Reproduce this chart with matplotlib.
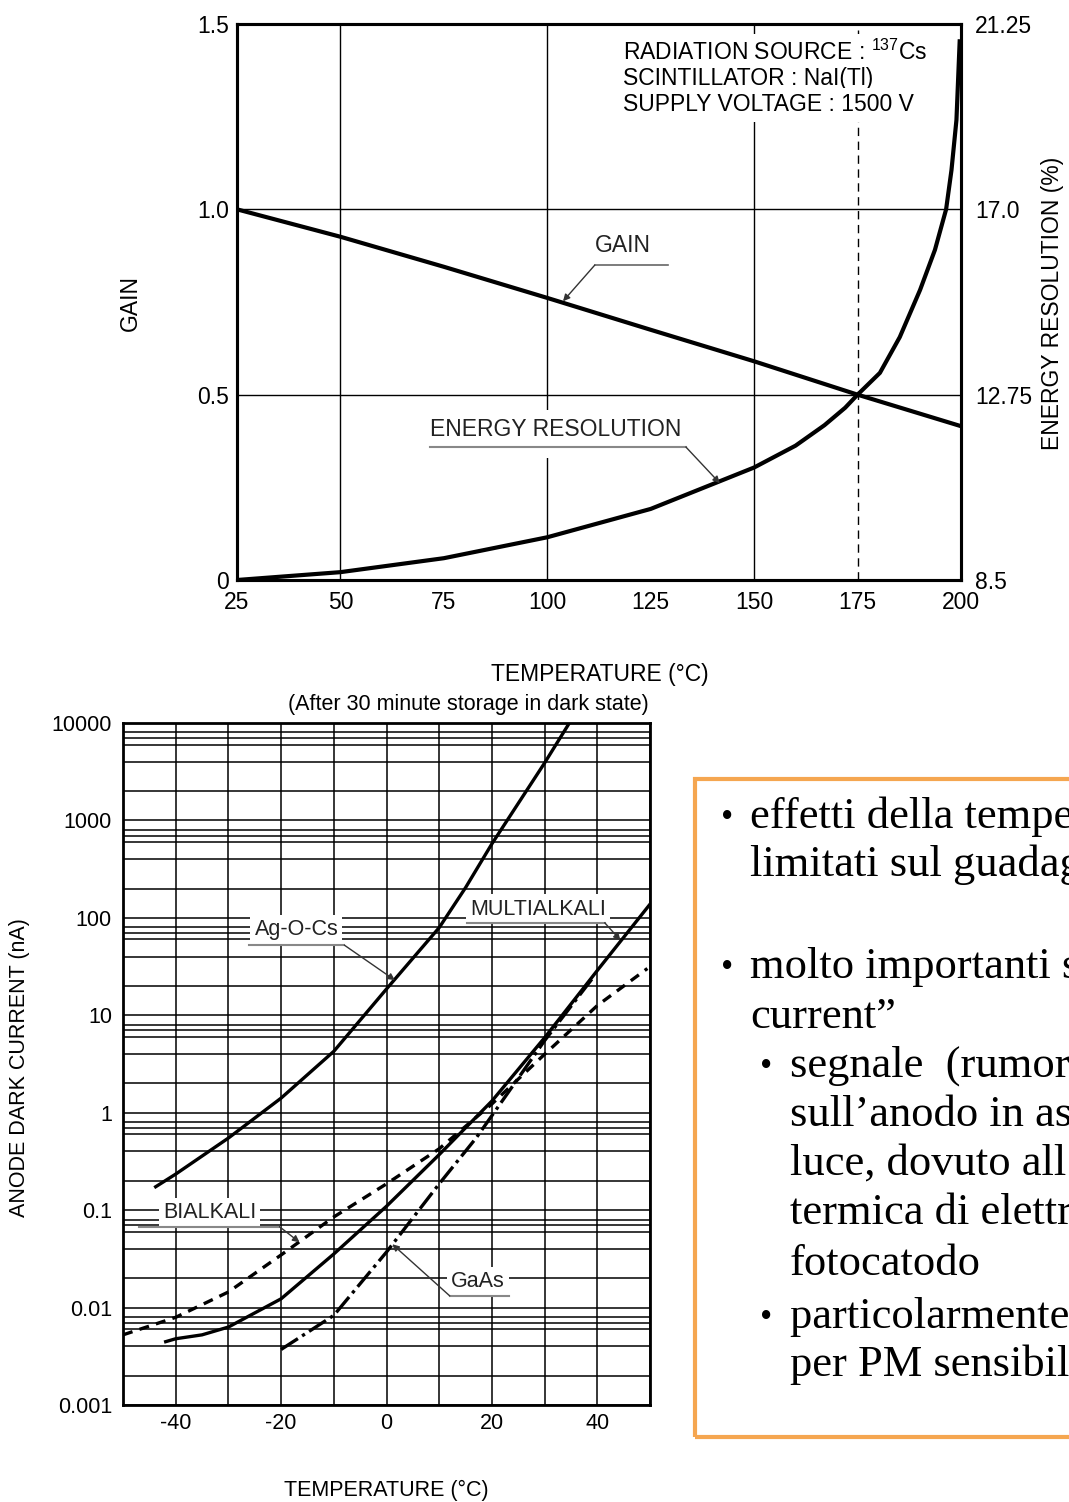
import numpy as np
import matplotlib
matplotlib.use("Agg")
import matplotlib.pyplot as plt
from matplotlib.patches import Rectangle
from matplotlib.ticker import FixedLocator, NullFormatter

plt.rcParams['font.family'] = ['Liberation Sans', 'DejaVu Sans']
plt.rcParams['mathtext.fontset'] = 'custom'
plt.rcParams['mathtext.rm'] = 'Liberation Sans'

# ---- top chart: gain / energy resolution vs temperature ----
gain_temp = [25, 50, 75, 100, 125, 150, 175, 200]
gain_val = [1.0, 0.926, 0.845, 0.761, 0.675, 0.59, 0.5, 0.415]

er_temp = [25, 50, 75, 100, 125, 150, 160, 167, 172, 175, 180.4, 185.2,
           190.1, 193.7, 196.4, 197.7, 198.9, 199.7]
er_val = [8.5, 8.68, 9.0, 9.48, 10.13, 11.08, 11.58, 12.05, 12.45, 12.75,
          13.25, 14.07, 15.15, 16.07, 17.0, 17.9, 19.05, 20.9]

top_xticks = [25, 50, 75, 100, 125, 150, 175, 200]
gain_ticks = [0, 0.5, 1.0, 1.5]
gain_ticklabels = ['0', '0.5', '1.0', '1.5']
er_ticks = [8.5, 12.75, 17.0, 21.25]
er_ticklabels = ['8.5', '12.75', '17.0', '21.25']

# ---- bottom chart: anode dark current vs temperature (log10 nA) ----
agocs_temp = [-43.8, -40, -30, -20, -10, 0, 10, 15, 20, 30, 34.7]
agocs_log = [-0.76, -0.63, -0.26, 0.15, 0.63, 1.27, 1.90, 2.31, 2.76, 3.59, 4.0]

multi_temp = [-41.9, -40, -35, -30, -20, -10, 0, 10, 20, 30, 40, 50]
multi_log = [-2.35, -2.32, -2.28, -2.20, -1.91, -1.45, -0.96, -0.43, 0.12,
             0.77, 1.46, 2.14]

bialk_temp = [-50, -40, -30, -20, -10, 0, 10, 20, 30, 40, 49.5]
bialk_log = [-2.28, -2.10, -1.84, -1.46, -1.07, -0.73, -0.37, 0.09, 0.60,
             1.10, 1.48]

gaas_temp = [-20, -10, 0, 10, 17, 20, 30, 39.1]
gaas_log = [-2.43, -2.08, -1.43, -0.73, -0.26, -0.03, 0.74, 1.38]

bot_xticks = [-40, -20, 0, 20, 40]
bot_yticks = [0.001, 0.01, 0.1, 1, 10, 100, 1000, 10000]
bot_yticklabels = ['0.001', '0.01', '0.1', '1', '10', '100', '1000', '10000']

W, H = 1069, 1502
fig = plt.figure(figsize=(W / 100, H / 100), dpi=100)


def fx(x):
    return x / W


def fy(y):
    return 1 - y / H


def er_of_px(py):
    # right-axis value of a pixel row in the top chart (for label placement)
    return 8.5 + (580 - py) / 556 * 12.75


TOP_FS = 16.5
BOT_FS = 15.5

# ================= top chart =================
ax1 = fig.add_axes([fx(237), fy(580), fx(961 - 237), (580 - 24) / H])
ax1.set_xlim(25, 200)
ax1.set_ylim(0, 1.5)
for v in [50, 100, 150]:
    ax1.axvline(v, color='black', lw=1.0, zorder=1)
for h in [0.5, 1.0]:
    ax1.axhline(h, color='black', lw=1.0, zorder=1)
ax1.axvline(175, color='black', lw=1.0, ls=(0, (6, 4)), zorder=1)
ax1.plot(gain_temp, gain_val, color='black', lw=3.0, zorder=3,
         solid_capstyle='butt')
ax1.set_xticks(top_xticks)
ax1.set_yticks(gain_ticks)
ax1.set_yticklabels(gain_ticklabels)
ax1.tick_params(length=0, labelsize=TOP_FS, pad=6)
ax1.tick_params(axis='x', pad=8)
for s in ax1.spines.values():
    s.set_linewidth(2.2)

ax2 = ax1.twinx()
ax2.set_ylim(8.5, 21.25)
ax2.plot(er_temp, er_val, color='black', lw=3.0, zorder=3,
         solid_capstyle='butt', solid_joinstyle='round')
ax2.set_yticks(er_ticks)
ax2.set_yticklabels(er_ticklabels)
ax2.tick_params(length=0, labelsize=TOP_FS, pad=10)
for s in ax2.spines.values():
    s.set_linewidth(2.2)

box = dict(facecolor='white', edgecolor='none', pad=2)
info = ['RADIATION SOURCE : $\\mathregular{^{137}}$Cs',
        'SCINTILLATOR : NaI(Tl)',
        'SUPPLY VOLTAGE : 1500 V']
for txt, py in zip(info, [60, 85, 111]):
    ax2.text(118.3, er_of_px(py), txt, ha='left', va='baseline',
             fontsize=TOP_FS, zorder=5,
             bbox=dict(facecolor='white', edgecolor='none', pad=4))

# GAIN label
ax2.text(118.3, er_of_px(246), 'GAIN', ha='center', va='center',
         fontsize=TOP_FS, color='#222222', zorder=5, bbox=box)
g_und = er_of_px(265)
ax2.plot([111.5, 129.2], [g_und, g_und], color='#666666', lw=1.2, zorder=5)
ax2.annotate('', xy=(103.8, 8.5 + 0.752 / 1.5 * 12.75), xytext=(111.5, g_und),
             arrowprops=dict(arrowstyle='-|>', color='#333333', lw=1.0,
                             mutation_scale=10, shrinkA=0, shrinkB=0),
             zorder=5)

# ENERGY RESOLUTION label
ax2.text(102.1, er_of_px(429), 'ENERGY RESOLUTION', ha='center',
         va='center', fontsize=TOP_FS, color='#222222', zorder=5, bbox=box)
e_und = er_of_px(447)
ax2.add_patch(Rectangle((71.6, e_und - 0.25), 133.5 - 71.6, 1.1,
                        facecolor='white', edgecolor='none', zorder=4))
ax2.plot([71.6, 133.5], [e_und, e_und], color='#888888', lw=1.5, zorder=5)
ax2.annotate('', xy=(141.7, 10.72), xytext=(133.5, e_und),
             arrowprops=dict(arrowstyle='-|>', color='#333333', lw=1.0,
                             mutation_scale=10, shrinkA=0, shrinkB=0),
             zorder=5)

fig.text(fx(130), fy(303), 'GAIN', rotation=90, ha='center', va='center',
         fontsize=TOP_FS)
fig.text(fx(1053), fy(303), 'ENERGY RESOLUTION (%)', rotation=90,
         ha='center', va='center', fontsize=TOP_FS)
fig.text(fx(600), fy(674), 'TEMPERATURE (\u00b0C)', ha='center', va='center',
         fontsize=TOP_FS)

# ================= bottom chart =================
ax3 = fig.add_axes([fx(123), fy(1405), fx(650 - 123), (1405 - 723) / H])
ax3.set_yscale('log')
ax3.set_xlim(-50, 50)
ax3.set_ylim(0.001, 10000)
ax3.set_xticks(bot_xticks)
ax3.set_xticklabels([str(t) for t in bot_xticks])
ax3.xaxis.set_minor_locator(FixedLocator(np.arange(-50, 51, 10)))
ax3.set_yticks(bot_yticks)
ax3.set_yticklabels(bot_yticklabels)
minors = [d * m for d in [0.001, 0.01, 0.1, 1, 10, 100, 1000]
          for m in [2, 4, 6, 7, 8]]
ax3.yaxis.set_minor_locator(FixedLocator(minors))
ax3.yaxis.set_minor_formatter(NullFormatter())
ax3.grid(True, which='both', color='black', lw=1.1, zorder=1)
ax3.tick_params(which='both', length=0, labelsize=BOT_FS)
ax3.tick_params(axis='y', pad=8)
ax3.tick_params(axis='x', pad=6)
ax3.set_axisbelow(True)
for s in ax3.spines.values():
    s.set_linewidth(2.0)

ax3.plot(agocs_temp, np.power(10.0, agocs_log), color='black', lw=2.4,
         zorder=3)
ax3.plot(multi_temp, np.power(10.0, multi_log), color='black', lw=2.4,
         zorder=3)
ax3.plot(bialk_temp, np.power(10.0, bialk_log), color='black', lw=2.4,
         ls=(0, (3, 2.2)), zorder=3)
ax3.plot(gaas_temp, np.power(10.0, gaas_log), color='black', lw=2.4,
         ls=(0, (6, 1.5, 1, 1.5)), zorder=3)

arrow_kw = dict(arrowstyle='-|>', color='#333333', lw=1.0, mutation_scale=10,
                shrinkA=0, shrinkB=0)
bbox_b = dict(facecolor='white', edgecolor='none', pad=3)


def label(ax, text, tx, tlog, ux0, ux1, ulog, ax_tip, tip_log, start_left=False):
    ax.text(tx, 10 ** tlog, text, ha='center', va='center', fontsize=BOT_FS,
            color='#222222', zorder=5, bbox=bbox_b)
    ax.plot([ux0, ux1], [10 ** ulog, 10 ** ulog], color='#888888', lw=1.5,
            zorder=5)
    sx = ux0 if start_left else ux1
    ax.annotate('', xy=(ax_tip, 10 ** tip_log), xytext=(sx, 10 ** ulog),
                arrowprops=arrow_kw, zorder=5)


label(ax3, 'Ag-O-Cs', -17.1, 1.88, -26, -8, 1.72, 1.6, 1.36)
label(ax3, 'MULTIALKALI', 28.8, 2.09, 15.2, 41.4, 1.95, 44.4, 1.77)
label(ax3, 'BIALKALI', -33.6, -1.02, -46.9, -20.3, -1.17, -16.5, -1.33)
label(ax3, 'GaAs', 17.3, -1.73, 12.0, 23.3, -1.88, 1.1, -1.35, start_left=True)

fig.text(fx(20), fy(1068), 'ANODE DARK CURRENT (nA)', rotation=90,
         ha='center', va='center', fontsize=BOT_FS)
fig.text(fx(468), fy(704), '(After 30 minute storage in dark state)',
         ha='center', va='center', fontsize=BOT_FS)
fig.text(fx(386), fy(1490), 'TEMPERATURE (\u00b0C)', ha='center',
         va='center', fontsize=BOT_FS)

# ================= text box =================
fig.patches.append(Rectangle((fx(695), fy(1437)), fx(420), (1437 - 779) / H,
                             transform=fig.transFigure, fill=False,
                             edgecolor='#F5A650', lw=3.0))
serif = ['Liberation Serif', 'DejaVu Serif']
lines = [
    (721, 750, 818, True, 'effetti della temperatura'),
    (None, 750, 866, False, 'limitati sul guadagno'),
    (721, 750, 968, True, 'molto importanti sulla \u201cdark'),
    (None, 750, 1018, False, 'current\u201d'),
    (760, 790, 1067, True, 'segnale  (rumore) presente'),
    (None, 790, 1116, False, 'sull\u2019anodo in assenza di'),
    (None, 790, 1165, False, 'luce, dovuto all\u2019emissione'),
    (None, 790, 1214, False, 'termica di elettroni dal'),
    (None, 790, 1265, False, 'fotocatodo'),
    (760, 790, 1318, True, 'particolarmente importante'),
    (None, 790, 1366, False, 'per PM sensibili nel rosso'),
]
for bx, tx, ty, has_bullet, txt in lines:
    if has_bullet:
        fig.text(fx(bx), fy(ty + 9), '\u2022', fontsize=25, family=serif,
                 ha='left', va='baseline')
    fig.text(fx(tx), fy(ty + 10), txt, fontsize=32, family=serif,
             ha='left', va='baseline')

fig.savefig('out.png', dpi=100)
